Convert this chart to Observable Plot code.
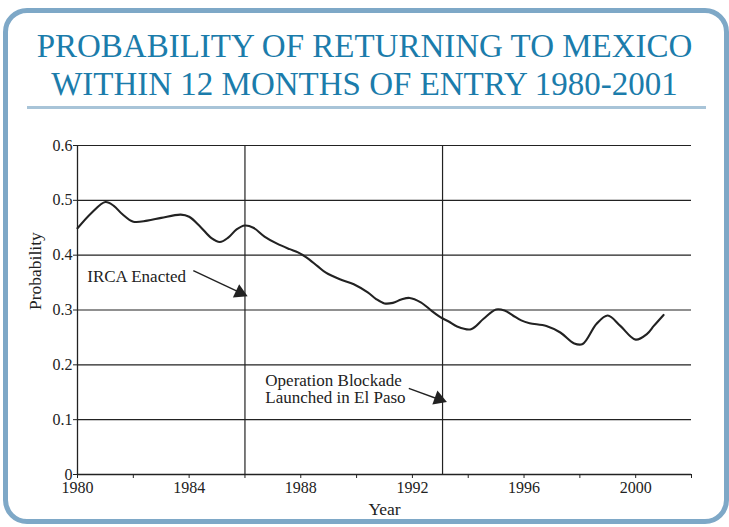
<!DOCTYPE html>
<html>
<head>
<meta charset="utf-8">
<script src="https://cdn.jsdelivr.net/npm/d3@7"></script>
<script src="https://cdn.jsdelivr.net/npm/@observablehq/plot@0.6"></script>
<style>
  html, body { margin: 0; padding: 0; background: #fff; }
  body { width: 729px; height: 527px; position: relative; overflow: hidden; }
  .frame { position: absolute; left: 3px; top: 8px; width: 716px; height: 506px;
    border: 5px solid #7ea8c7; border-radius: 24px; box-sizing: content-box; }
  .title { position: absolute; left: 0; top: 27px; width: 729px; text-align: center;
    font-family: "Liberation Serif", serif; font-size: 33px; line-height: 38px;
    color: #1b7cab; letter-spacing: 0px; }
  .sep { position: absolute; left: 27px; top: 106px; width: 679px; height: 3px; background: #a8c4d8; }
  #chart { position: absolute; left: 0; top: 130px; }
</style>
</head>
<body>
<div class="frame"></div>
<div class="title">PROBABILITY OF RETURNING TO MEXICO<br>WITHIN 12 MONTHS OF ENTRY 1980-2001</div>
<div class="sep"></div>
<div id="chart"></div>
<script>
const years = [1980.0, 1980.5, 1981.0, 1981.3, 1981.6, 1982.0, 1982.5, 1983.0, 1983.7, 1984.0,
  1984.4, 1984.8, 1985.1, 1985.4, 1985.7, 1986.0, 1986.3, 1986.7, 1987.15, 1987.6,
  1987.9, 1988.2, 1988.6, 1988.9, 1989.4, 1989.9, 1990.4, 1990.7, 1991.0, 1991.3,
  1991.6, 1991.9, 1992.3, 1992.7, 1993.0, 1993.3, 1993.6, 1994.1, 1994.55, 1995.0,
  1995.3, 1995.6, 1995.9, 1996.2, 1996.8, 1997.3, 1997.8, 1998.1, 1998.6, 1999.0,
  1999.45, 2000.0, 2000.4, 2000.65, 2001.0];
const probability = [0.449, 0.477, 0.497, 0.490, 0.475, 0.461, 0.463, 0.468, 0.474, 0.470,
  0.452, 0.431, 0.424, 0.432, 0.447, 0.454, 0.450, 0.434, 0.421, 0.411,
  0.405, 0.396, 0.380, 0.368, 0.356, 0.347, 0.332, 0.320, 0.312, 0.313,
  0.319, 0.322, 0.314, 0.298, 0.287, 0.279, 0.270, 0.265, 0.284, 0.301,
  0.299, 0.290, 0.281, 0.276, 0.271, 0.259, 0.239, 0.238, 0.275, 0.290,
  0.271, 0.246, 0.256, 0.271, 0.291];
const eventYears = [1986, 1993.08];
const yTicks = [0, 0.1, 0.2, 0.3, 0.4, 0.5, 0.6];
const xTicks = [1980, 1982, 1984, 1986, 1988, 1990, 1992, 1994, 1996, 1998, 2000, 2002];
const xLabelYears = [1980, 1984, 1988, 1992, 1996, 2000];
const xTitle = "Year";
const yTitle = "Probability";
const noteTexts = ["IRCA Enacted", "Operation Blockade\nLaunched in El Paso"];
const noteX = [1980.35, 1986.73];
const noteY = [0.361, 0.156];
const arrowX1 = [1984.15, 1991.87];
const arrowY1 = [0.372, 0.157];
const arrowX2 = [1985.98, 1993.11];
const arrowY2 = [0.328, 0.134];
const arrowAngle = [115, 110];

const series = years.map((y, i) => ({year: y, p: probability[i]}));
const notes = noteTexts.map((t, i) => ({text: t, x: noteX[i], y: noteY[i]}));
const arrows = arrowX1.map((x, i) => ({x1: x, y1: arrowY1[i], x2: arrowX2[i], y2: arrowY2[i], a: arrowAngle[i]}));

const ink = "#222";
const chart = Plot.plot({
  width: 729, height: 397,
  marginLeft: 77, marginRight: 38, marginTop: 15, marginBottom: 53,
  style: {fontFamily: "'Liberation Serif', serif", fontSize: "16px", color: ink, background: "transparent", overflow: "visible"},
  x: {domain: [1980, 2002]},
  y: {domain: [0, 0.6]},
  marks: [
    Plot.gridY(yTicks, {stroke: ink, strokeOpacity: 1, strokeWidth: 1.2}),
    Plot.ruleX(eventYears, {stroke: ink, strokeWidth: 1.2}),
    Plot.ruleX([1980], {stroke: ink, strokeWidth: 1.3}),
    Plot.ruleY([0], {stroke: ink, strokeWidth: 1.3}),
    Plot.axisY(yTicks, {tickSize: 4, tickPadding: 1, tickFormat: d => d === 0 ? "0" : d.toFixed(1),
      label: null, fontSize: 16}),
    Plot.axisX(xTicks, {tickSize: 4, tickPadding: 3, tickFormat: d => xLabelYears.includes(d) ? String(d) : "",
      label: null, fontSize: 16}),
    Plot.text([xTitle], {frameAnchor: "bottom", dy: 40, fontSize: 17.5, fill: ink}),
    Plot.text([yTitle], {frameAnchor: "left", rotate: -90, dx: -42, fontSize: 17.5, fill: ink}),
    Plot.line(series, {x: "year", y: "p", stroke: ink, strokeWidth: 2.1, curve: "catmull-rom"}),
    Plot.text(notes, {x: "x", y: "y", text: "text", textAnchor: "start", fontSize: 17, lineHeight: 1.0, fill: ink}),
    Plot.link(arrows, {x1: "x1", y1: "y1", x2: "x2", y2: "y2", stroke: ink, strokeWidth: 1.4}),
    Plot.dot(arrows, {x: "x2", y: "y2", symbol: "triangle", r: 5.5, fill: ink, stroke: null, rotate: "a",
      dx: -4.5, dy: -2})
  ]
});
document.getElementById("chart").appendChild(chart);
</script>
</body>
</html>
